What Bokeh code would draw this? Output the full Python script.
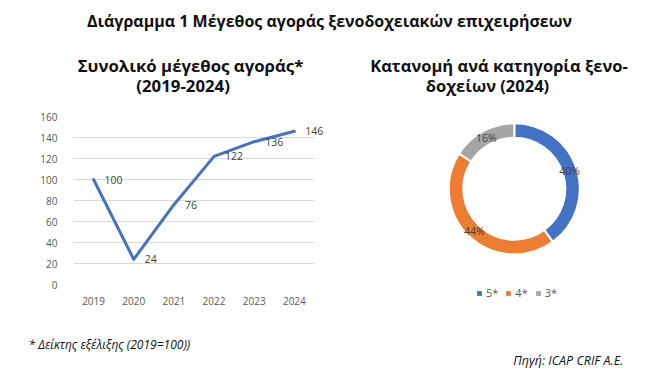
import math
from bokeh.plotting import figure
from bokeh.models import (Range1d, FixedTicker, Label, LabelSet,
                          ColumnDataSource, Legend, LegendItem)
from bokeh.core.properties import value
from bokeh.layouts import column, row
from bokeh.embed import file_html
from bokeh.resources import INLINE

# ---------------- data ----------------
years = ["2019", "2020", "2021", "2022", "2023", "2024"]
index_values = [100, 24, 76, 122, 136, 146]
y_ticks = [0, 20, 40, 60, 80, 100, 120, 140, 160]

categories = ["5*", "4*", "3*"]
shares = [40, 44, 16]
share_labels = ["40%", "44%", "16%"]
colors = ["#4472C4", "#ED7D31", "#A5A5A5"]

main_title = "Διάγραμμα 1 Μέγεθος αγοράς ξενοδοχειακών επιχειρήσεων"
left_title = ["Συνολικό μέγεθος αγοράς*", "(2019-2024)"]
right_title = ["Κατανομή ανά κατηγορία ξενο-", "δοχείων (2024)"]
footnote = "* Δείκτης εξέλιξης (2019=100))"
source_note = "Πηγή:  ICAP CRIF A.E."

FONT = "Open Sans"
TXT = "#595959"
LBL = "#404040"


def blank(fig):
    fig.axis.visible = False
    fig.grid.visible = False
    fig.outline_line_color = None
    fig.background_fill_color = None
    fig.border_fill_color = None
    return fig


def canvas(w, h):
    return blank(figure(width=w, height=h, x_range=Range1d(0, w), y_range=Range1d(h, 0),
                        min_border=0, toolbar_location=None, output_backend="svg",
                        frame_align=False))


def label(fig, x, y, text, size, style="bold", align="center"):
    fig.add_layout(Label(x=x, y=y, text=text, text_align=align, text_baseline="middle",
                         text_font=FONT, text_font_style=style, text_font_size=size,
                         text_color="#111111"))


# ---------------- header ----------------
head = canvas(656, 100)
label(head, 329, 20, main_title, "16px")
for (xx, yy), t in zip([(190, 65), (182.6, 85)], left_title):
    label(head, xx, yy, t, "16.8px")
for (xx, yy), t in zip([(498.5, 65), (487, 85)], right_title):
    label(head, xx, yy, t, "16.5px")

# ---------------- line chart ----------------
MID_H = 235
xi = list(range(len(years)))
p = figure(width=340, height=MID_H, x_range=Range1d(-0.5, len(years) - 0.2),
           y_range=Range1d(0, 160), min_border_left=73, min_border_right=14,
           min_border_top=16, min_border_bottom=MID_H - 16 - 168,
           toolbar_location=None, output_backend="svg", frame_align=False)
p.outline_line_color = None
p.background_fill_color = None
p.border_fill_color = None
p.xgrid.visible = False
p.ygrid.grid_line_color = "#D9D9D9"
p.ygrid.grid_line_width = 1
p.ygrid.cross_bounds = (-0.5, len(years) - 0.5)
p.yaxis.ticker = FixedTicker(ticks=y_ticks)
p.xaxis.ticker = FixedTicker(ticks=xi)
p.xaxis.major_label_overrides = {i: y for i, y in zip(xi, years)}
for ax in (p.xaxis[0], p.yaxis[0]):
    ax.axis_line_color = None
    ax.major_tick_line_color = None
    ax.minor_tick_line_color = None
    ax.major_label_text_font = FONT
    ax.major_label_text_font_size = "10px"
    ax.major_label_text_color = TXT
p.yaxis.major_label_standoff = 10
p.xaxis.major_label_standoff = 6

src = ColumnDataSource(dict(x=xi, y=index_values, t=[str(v) for v in index_values]))
p.line("x", "y", source=src, line_color="#4472C4", line_width=3,
       line_join="round", line_cap="round")
p.add_layout(LabelSet(x="x", y="y", text="t", source=src, x_offset=11,
                      text_align="left", text_baseline="middle",
                      text_font=value(FONT), text_font_size=value("10.5px"), text_color=LBL))

# ---------------- donut ----------------
W2, H2 = 316, MID_H
cx, cy = 173.8, 88.3
d = blank(figure(width=W2, height=H2, x_range=Range1d(-cx, W2 - cx),
                 y_range=Range1d(-(H2 - cy), cy), min_border=0,
                 toolbar_location=None, output_backend="svg", frame_align=False))
total = sum(shares)
starts, ends, lx, ly = [], [], [], []
acc = 0.0
r_in, r_out = 51, 65.5
for s in shares:
    a0 = math.pi / 2 - 2 * math.pi * acc / total
    a1 = a0 - 2 * math.pi * s / total
    starts.append(a0)
    ends.append(a1)
    mid = (a0 + a1) / 2
    rm = (r_in + r_out) / 2
    lx.append(rm * math.cos(mid))
    ly.append(rm * math.sin(mid))
    acc += s
dsrc = ColumnDataSource(dict(start=starts, end=ends, color=colors, cat=categories,
                             lx=lx, ly=ly, t=share_labels))
d.annular_wedge(x=0, y=0, inner_radius=r_in, outer_radius=r_out, start_angle="start",
                end_angle="end", direction="clock", fill_color="color", line_color="white",
                line_width=2, source=dsrc)
d.add_layout(LabelSet(x="lx", y="ly", text="t", source=dsrc, text_align="center",
                      text_baseline="middle", text_font=value(FONT),
                      text_font_size=value("10.5px"), text_color=LBL))

items = []
for c, col in zip(categories, colors):
    r = d.scatter(x=[0], y=[0], size=0, marker="square", fill_color=col, line_color=None)
    items.append(LegendItem(label=c, renderers=[r]))
leg = Legend(items=items, orientation="horizontal", location=(133, 35),
             glyph_width=12, glyph_height=12, label_height=12, label_width=5,
             label_standoff=1, spacing=4, padding=0, margin=0,
             border_line_color=None, background_fill_alpha=0,
             label_text_font=FONT, label_text_font_size="11px", label_text_color=TXT)
d.add_layout(leg)

# ---------------- footer ----------------
foot = canvas(656, 381 - 100 - MID_H)
label(foot, 28, 9, footnote, "12px", style="italic", align="left")
label(foot, 626, 25, source_note, "12.5px", style="italic", align="right")

layout = column(head, row(p, d), foot)
open("out.html", "w").write(file_html(layout, INLINE))
